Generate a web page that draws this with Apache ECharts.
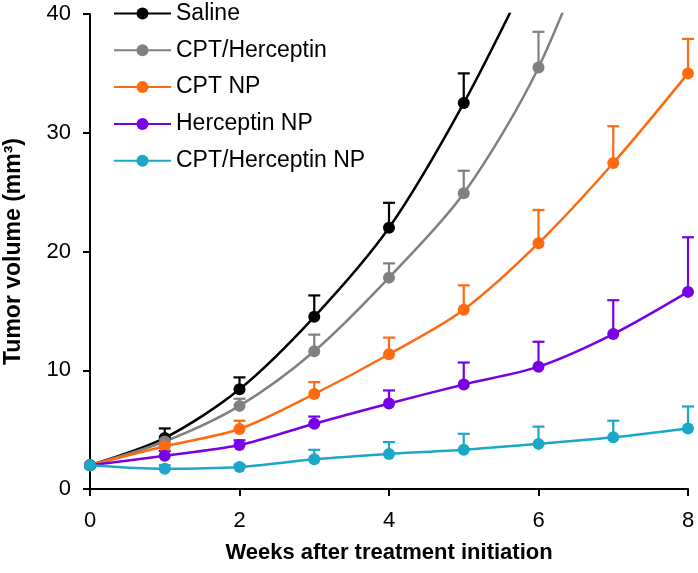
<!DOCTYPE html>
<html>
<head>
<meta charset="utf-8">
<script src="https://cdn.jsdelivr.net/npm/echarts@6/dist/echarts.min.js"></script>
<style>
html,body{margin:0;padding:0;background:#fff;}
#chart{width:698px;height:573px;}
</style>
</head>
<body>
<div id="chart"></div>
<script>
// ---- data ----
const weeks = [0, 1, 2, 3, 4, 5, 6, 7, 8];
const seriesNames = ['Saline', 'CPT/Herceptin', 'CPT NP', 'Herceptin NP', 'CPT/Herceptin NP'];
const seriesColors = ['#000000', '#808080', '#ff6a10', '#7700e6', '#1aa8c6'];

const saline        = [2.0, 4.3, 8.4, 14.5, 22.0, 32.5, 45.0];
const salineErr     = [0, 0.8, 1.0, 1.8, 2.1, 2.5, null];
const cptHer        = [2.0, 4.0, 7.0, 11.6, 17.8, 24.9, 35.5, 51.0];
const cptHerErr     = [0, 0.4, 0.6, 1.4, 1.2, 1.9, 3.0, null];
const cptNp         = [2.0, 3.6, 5.05, 8.0, 11.35, 15.1, 20.7, 27.45, 35.0];
const cptNpErr      = [0, 0.3, 0.7, 1.0, 1.4, 2.05, 2.8, 3.1, 2.9];
const herNp         = [2.0, 2.8, 3.7, 5.5, 7.2, 8.8, 10.3, 13.05, 16.6];
const herNpErr      = [0, 0.4, 0.4, 0.6, 1.1, 1.85, 2.1, 2.85, 4.6];
const cptHerNp      = [2.0, 1.7, 1.85, 2.5, 2.95, 3.3, 3.8, 4.35, 5.1];
const cptHerNpErr   = [0, 0.3, 0.2, 0.8, 1.0, 1.35, 1.45, 1.4, 1.85];

const xTicks = [0, 2, 4, 6, 8];
const yTicks = [0, 10, 20, 30, 40];

const values = [saline, cptHer, cptNp, herNp, cptHerNp];
const errors = [salineErr, cptHerErr, cptNpErr, herNpErr, cptHerNpErr];

const FONT = '"Liberation Sans", Arial, sans-serif';
const yMax = yTicks[yTicks.length - 1];

const series = [];
// error bars first (drawn beneath)
values.forEach((vals, i) => {
  const data = [];
  vals.forEach((v, k) => {
    const e = errors[i][k];
    if (e && v + e <= yMax) data.push([weeks[k], v, e]);
  });
  const color = seriesColors[i];
  series.push({
    name: seriesNames[i] + ' err',
    type: 'custom',
    z: 2,
    data: data,
    encode: { x: 0, y: 1 },
    renderItem: function (params, api) {
      const x = api.value(0), y = api.value(1), e = api.value(2);
      const p0 = api.coord([x, y]);
      const p1 = api.coord([x, y + e]);
      const half = 6;
      return {
        type: 'group',
        children: [
          { type: 'line', shape: { x1: p0[0], y1: p0[1], x2: p1[0], y2: p1[1] }, style: { stroke: color, lineWidth: 2.2 } },
          { type: 'line', shape: { x1: p1[0] - half, y1: p1[1], x2: p1[0] + half, y2: p1[1] }, style: { stroke: color, lineWidth: 2.2 } }
        ]
      };
    }
  });
});
values.forEach((vals, i) => {
  series.push({
    name: seriesNames[i],
    type: 'line',
    z: 3,
    smooth: 0.3,
    clip: true,
    symbol: 'circle',
    symbolSize: 12,
    showAllSymbol: true,
    color: seriesColors[i],
    lineStyle: { width: 2.5, color: seriesColors[i] },
    itemStyle: { color: seriesColors[i] },
    data: vals.map((v, k) => [weeks[k], v])
  });
});

const chart = echarts.init(document.getElementById('chart'), null, { renderer: 'canvas' });
chart.setOption({
  animation: false,
  backgroundColor: '#ffffff',
  grid: { left: 90, right: 10, top: 14, bottom: 84, containLabel: false, outerBoundsMode: 'none' },
  legend: {
    data: seriesNames,
    orient: 'vertical',
    left: 113,
    top: 2,
    padding: 0,
    itemWidth: 57,
    itemHeight: 15,
    itemGap: 13.8,
    textStyle: { fontFamily: FONT, fontSize: 23, color: '#000' }
  },
  xAxis: {
    type: 'value',
    min: xTicks[0],
    max: xTicks[xTicks.length - 1],
    interval: 2,
    name: 'Weeks after treatment initiation',
    nameLocation: 'middle',
    nameGap: 53,
    nameTextStyle: { fontFamily: FONT, fontSize: 22, fontWeight: 'bold', color: '#000' },
    axisLine: { onZero: false, lineStyle: { color: '#000', width: 2 } },
    axisTick: { show: true, inside: false, length: 7, lineStyle: { color: '#000', width: 2 } },
    axisLabel: { margin: 21, fontFamily: FONT, fontSize: 22, color: '#000',
      formatter: v => xTicks.indexOf(v) >= 0 ? String(v) : '' },
    splitLine: { show: false }
  },
  yAxis: {
    type: 'value',
    min: yTicks[0],
    max: yMax,
    interval: 10,
    name: 'Tumor volume (mm³)',
    nameLocation: 'middle',
    nameGap: 65,
    nameTextStyle: { fontFamily: FONT, fontSize: 23, fontWeight: 'bold', color: '#000' },
    axisLine: { show: true, onZero: false, lineStyle: { color: '#000', width: 2 } },
    axisTick: { show: true, inside: false, length: 7, lineStyle: { color: '#000', width: 2 } },
    axisLabel: { margin: 19, fontFamily: FONT, fontSize: 22, color: '#000',
      formatter: v => yTicks.indexOf(v) >= 0 ? String(v) : '' },
    splitLine: { show: false }
  },
  series: series
});
</script>
</body>
</html>
